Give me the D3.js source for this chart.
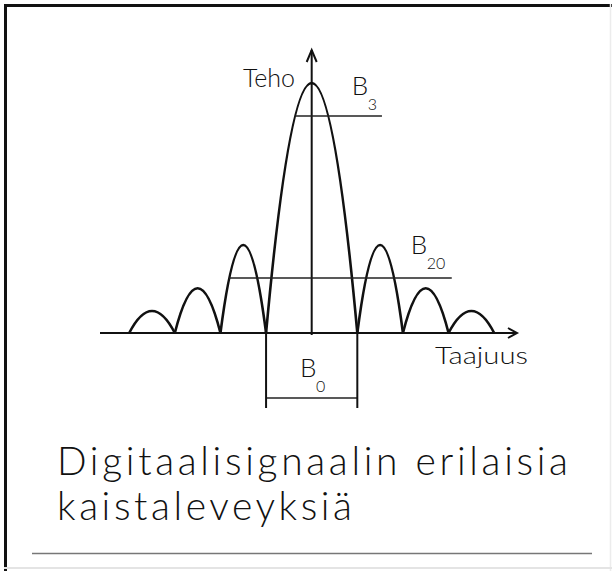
<!DOCTYPE html>
<html>
<head>
<meta charset="utf-8">
<script src="https://cdn.jsdelivr.net/npm/d3@7"></script>
<style>
  body { margin: 0; background: #fff; }
  svg { display: block; }
  text { font-family: Lato, "DejaVu Sans", sans-serif; font-weight: 300; fill: #111; }
</style>
</head>
<body>
<div id="graph"></div>
<script>
// spectrum lobes, frequency in units of 1/T, power relative to main peak
const lobeStart = [-4, -3, -2, -1, 1, 2, 3];
const lobeEnd   = [-3, -2, -1, 1, 2, 3, 4];
const lobePeak  = [0.088, 0.179, 0.352, 1, 0.352, 0.179, 0.088];

// bandwidth markers (B3, B20, B0)
const bandSub   = ["3", "20", "0"];
const bandLevel = [0.868, 0.22, -0.26];
const bandFrom  = [-0.36, -1.81, -1];
const bandTo    = [1.54, 3.07, 1];

const axisLabels  = ["Teho", "Taajuus"];
const titleLines  = ["Digitaalisignaalin erilaisia", "kaistaleveyksiä"];

function initial() {
    const W = 612, H = 571;
    var svg = d3.select('#graph').append("svg")
        .attr("width", W)
        .attr("height", H);

    // frame
    svg.append("line").attr("x1", 4).attr("x2", W).attr("y1", 5.5).attr("y2", 5.5)
        .attr("stroke", "#111").attr("stroke-width", 3);
    svg.append("line").attr("x1", 5.5).attr("x2", 5.5).attr("y1", 4).attr("y2", H)
        .attr("stroke", "#111").attr("stroke-width", 3);
    svg.append("line").attr("x1", 610.5).attr("x2", 610.5).attr("y1", 4).attr("y2", H)
        .attr("stroke", "#ececec").attr("stroke-width", 1.5);
    svg.append("line").attr("x1", 4).attr("x2", W).attr("y1", 568).attr("y2", 568)
        .attr("stroke", "#e4e4e4").attr("stroke-width", 2);

    var x = d3.scaleLinear().domain([-4.64, 4.5]).range([100, 517]);
    var y = d3.scaleLinear().domain([0, 1]).range([333, 83]);

    var g = svg.append("g");

    // axes with open arrow heads
    var x0 = x(0), y0 = y(0);
    g.append("line").attr("x1", x.range()[0]).attr("x2", x.range()[1])
        .attr("y1", y0).attr("y2", y0)
        .attr("stroke", "#111").attr("stroke-width", 2);
    g.append("path")
        .attr("d", `M${x.range()[1] - 9},${y0 - 5}L${x.range()[1]},${y0}L${x.range()[1] - 9},${y0 + 5}`)
        .attr("fill", "none").attr("stroke", "#111").attr("stroke-width", 2);
    var yTop = y(1.132);
    g.append("line").attr("x1", x0).attr("x2", x0)
        .attr("y1", y0 + 2).attr("y2", yTop)
        .attr("stroke", "#111").attr("stroke-width", 2);
    g.append("path")
        .attr("d", `M${x0 - 5},${yTop + 12}L${x0},${yTop}L${x0 + 5},${yTop + 12}`)
        .attr("fill", "none").attr("stroke", "#111").attr("stroke-width", 2);

    // lobes as parabolic arcs (quadratic bezier, control at twice the peak)
    var lobes = lobeStart.map((s, i) => ({ s: s, e: lobeEnd[i], p: lobePeak[i] }));
    g.selectAll(".lobe")
        .data(lobes)
        .enter()
        .append("path")
        .attr("class", "lobe")
        .attr("d", function(d) {
            var p = d3.path();
            p.moveTo(x(d.s), y(0));
            p.quadraticCurveTo(x((d.s + d.e) / 2), y(2 * d.p), x(d.e), y(0));
            return p.toString();
        })
        .attr("fill", "none")
        .attr("stroke", "#111")
        .attr("stroke-width", 2.6)
        .attr("stroke-linejoin", "round");

    // bandwidth lines
    var bands = bandSub.map((s, i) => ({ sub: s, lv: bandLevel[i], a: bandFrom[i], b: bandTo[i] }));
    g.selectAll(".band")
        .data(bands)
        .enter()
        .append("line")
        .attr("class", "band")
        .attr("x1", d => x(d.a)).attr("x2", d => x(d.b))
        .attr("y1", d => y(d.lv)).attr("y2", d => y(d.lv))
        .attr("stroke", "#222").attr("stroke-width", 1.5);

    // B0 bracket verticals
    g.selectAll(".b0side")
        .data([bandFrom[2], bandTo[2]])
        .enter()
        .append("line")
        .attr("x1", d => x(d)).attr("x2", d => x(d))
        .attr("y1", y(0)).attr("y2", y(-0.30))
        .attr("stroke", "#111").attr("stroke-width", 2);

    // band labels
    var labelPos = [[0.877, 0.952], [2.17, 0.315], [-0.256, -0.175]];
    bands.forEach(function(d, i) {
        var lx = x(labelPos[i][0]), ly = y(labelPos[i][1]);
        g.append("text").attr("x", lx).attr("y", ly)
            .attr("font-size", 26).text("B");
        g.append("text").attr("x", lx + 16).attr("y", ly + 15)
            .attr("font-size", 16).text(d.sub);
    });

    // axis labels
    g.append("text").attr("x", 295).attr("y", 87)
        .attr("text-anchor", "end").attr("font-size", 25)
        .text(axisLabels[0]);
    g.append("text").attr("x", 435).attr("y", 364)
        .attr("font-size", 24)
        .attr("textLength", 93).attr("lengthAdjust", "spacingAndGlyphs")
        .text(axisLabels[1]);

    // caption
    var widths = [511, 295];
    svg.selectAll(".title")
        .data(titleLines)
        .enter()
        .append("text")
        .attr("class", "title")
        .attr("x", 57)
        .attr("y", (d, i) => 475 + i * 45)
        .attr("font-size", 39)
        .attr("textLength", (d, i) => widths[i])
        .attr("lengthAdjust", "spacing")
        .text(d => d);

    svg.append("line").attr("x1", 32).attr("x2", 592).attr("y1", 553.5).attr("y2", 553.5)
        .attr("stroke", "#777").attr("stroke-width", 1.5);
}

initial();
</script>
</body>
</html>
